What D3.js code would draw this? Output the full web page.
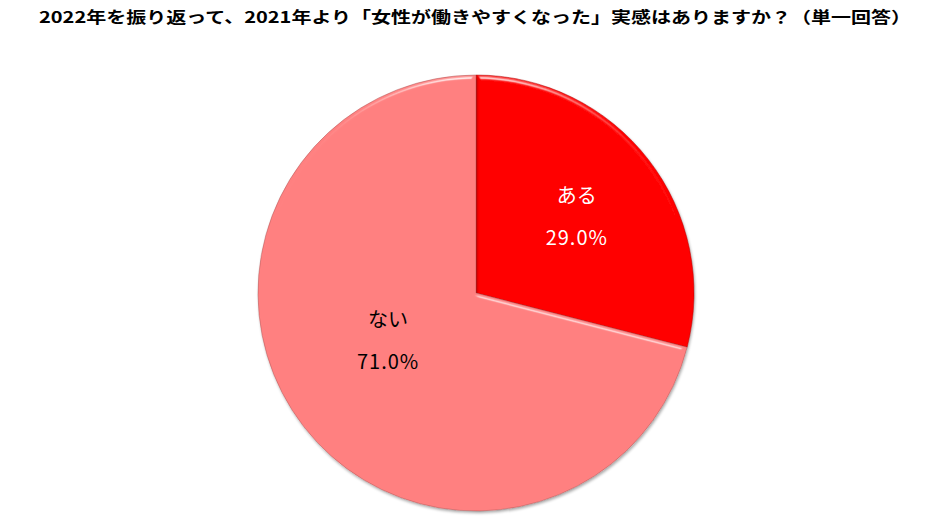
<!DOCTYPE html>
<html><head><meta charset="utf-8">
<script src="https://cdn.jsdelivr.net/npm/d3@7"></script>
<style>
html,body{margin:0;padding:0;background:#fff;}
svg{display:block;}
</style></head>
<body>
<svg id="chart" width="947" height="522"></svg>
<script>
const title = "2022年を振り返って、2021年より「女性が働きやすくなった」実感はありますか？（単一回答）";
const categories = ["ある", "ない"];
const values = [29.0, 71.0];
const colors = ["#FF0000", "#FF8080"];
const labelColors = ["#FFFFFF", "#000000"];

const W = 947, H = 522;
const cx = 476, cy = 293, R = 218;
const svg = d3.select("#chart");

const defs = svg.append("defs");
const f = defs.append("filter").attr("id","bevel").attr("x","-10%").attr("y","-10%").attr("width","120%").attr("height","120%");
f.append("feGaussianBlur").attr("in","SourceAlpha").attr("stdDeviation",2).attr("result","blur");
const spec = f.append("feSpecularLighting").attr("in","blur").attr("surfaceScale",4).attr("specularConstant",1.0)
  .attr("specularExponent",40).attr("lighting-color","#ffffff").attr("result","spec");
spec.append("feDistantLight").attr("azimuth",270).attr("elevation",22);
f.append("feComposite").attr("in","spec").attr("in2","SourceAlpha").attr("operator","in").attr("result","specIn");
f.append("feComposite").attr("in","SourceGraphic").attr("in2","specIn").attr("operator","arithmetic")
  .attr("k1",0).attr("k2",1).attr("k3",0.6).attr("k4",0).attr("result","lit");
f.append("feGaussianBlur").attr("in","SourceAlpha").attr("stdDeviation",1.5).attr("result","sblur");
f.append("feOffset").attr("in","sblur").attr("dx",1).attr("dy",2).attr("result","soff");
f.append("feComponentTransfer").attr("in","soff").attr("result","shadow")
  .append("feFuncA").attr("type","linear").attr("slope",0.35);
const m = f.append("feMerge");
m.append("feMergeNode").attr("in","shadow");
m.append("feMergeNode").attr("in","lit");

svg.append("text")
  .attr("x", 475).attr("y", 23)
  .attr("text-anchor","middle")
  .attr("font-family","'Noto Sans CJK JP', 'Noto Sans', sans-serif")
  .attr("font-weight","bold")
  .attr("font-size", 16)
  .attr("textLength", 872).attr("lengthAdjust","spacingAndGlyphs")
  .attr("fill","#000")
  .text(title);

const pie = d3.pie().sort(null).value(d => d)(values);
const arc = d3.arc().innerRadius(0).outerRadius(R);
const g = svg.append("g").attr("transform",`translate(${cx},${cy})`);

const slices = g.selectAll("g.slice").data(pie).join("g").attr("class","slice");
slices.append("path")
  .attr("d", arc)
  .attr("fill", (d,i) => colors[i])
  .attr("filter","url(#bevel)");
slices.append("path")
  .attr("d", arc)
  .attr("fill","none")
  .attr("stroke", (d,i) => d3.color(colors[i]).darker(1.2))
  .attr("stroke-opacity",0.45)
  .attr("stroke-width",1);

const labelR = [0.585, 0.455];
const labelShift = [0, 0.178];
slices.each(function(d,i){
  const a = (d.startAngle + d.endAngle)/2 + labelShift[i];
  const r = R * labelR[i];
  const x = Math.sin(a)*r, y = -Math.cos(a)*r;
  const t = d3.select(this).append("text")
    .attr("text-anchor","middle")
    .attr("font-family","'Noto Sans CJK JP', 'Noto Sans', sans-serif")
    .attr("font-size",20)
    .attr("fill", labelColors[i]);
  t.append("tspan").attr("x", x).attr("y", y - 12).text(categories[i]);
  t.append("tspan").attr("x", x).attr("y", y + 30).attr("letter-spacing", 1).text(values[i].toFixed(1) + "%");
});
</script>
</body></html>
